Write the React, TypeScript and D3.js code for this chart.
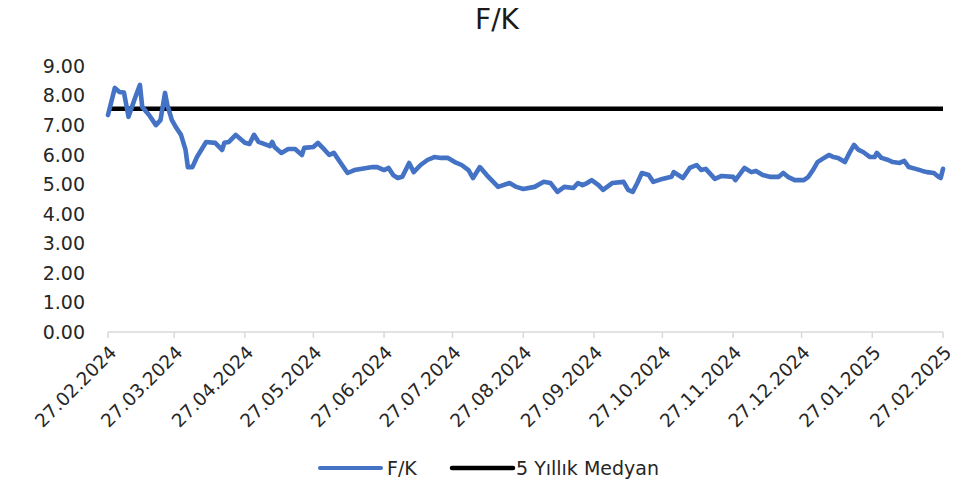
import React from 'react';
import * as d3 from 'd3';

// F/K series
const dates = [
  '2024-02-27', '2024-03-01', '2024-03-03', '2024-03-05', '2024-03-07', '2024-03-10', '2024-03-12',
  '2024-03-13', '2024-03-16', '2024-03-19', '2024-03-21', '2024-03-23', '2024-03-24', '2024-03-26',
  '2024-03-28', '2024-03-30', '2024-04-01', '2024-04-02', '2024-04-04', '2024-04-06', '2024-04-10',
  '2024-04-14', '2024-04-17', '2024-04-18', '2024-04-20', '2024-04-23', '2024-04-27', '2024-04-29',
  '2024-05-01', '2024-05-03', '2024-05-08', '2024-05-09', '2024-05-10', '2024-05-13', '2024-05-16',
  '2024-05-19', '2024-05-22', '2024-05-23', '2024-05-27', '2024-05-29', '2024-06-01', '2024-06-03',
  '2024-06-05', '2024-06-08', '2024-06-11', '2024-06-14', '2024-06-22', '2024-06-24', '2024-06-27',
  '2024-06-29', '2024-07-01', '2024-07-03', '2024-07-05', '2024-07-08', '2024-07-10', '2024-07-13',
  '2024-07-16', '2024-07-19', '2024-07-22', '2024-07-25', '2024-07-28', '2024-07-31', '2024-08-03',
  '2024-08-05', '2024-08-08', '2024-08-11', '2024-08-16', '2024-08-21', '2024-08-24', '2024-08-27',
  '2024-09-01', '2024-09-05', '2024-09-08', '2024-09-11', '2024-09-14', '2024-09-18', '2024-09-20',
  '2024-09-22', '2024-09-24', '2024-09-26', '2024-09-29', '2024-10-01', '2024-10-05', '2024-10-10',
  '2024-10-12', '2024-10-14', '2024-10-16', '2024-10-18', '2024-10-21', '2024-10-23', '2024-10-27',
  '2024-10-31', '2024-11-01', '2024-11-05', '2024-11-08', '2024-11-11', '2024-11-13', '2024-11-15',
  '2024-11-19', '2024-11-22', '2024-11-27', '2024-11-28', '2024-12-02', '2024-12-05', '2024-12-07',
  '2024-12-10', '2024-12-13', '2024-12-17', '2024-12-19', '2024-12-21', '2024-12-24', '2024-12-28',
  '2024-12-30', '2025-01-01', '2025-01-03', '2025-01-05', '2025-01-08', '2025-01-10', '2025-01-12',
  '2025-01-15', '2025-01-17', '2025-01-19', '2025-01-21', '2025-01-23', '2025-01-26', '2025-01-28',
  '2025-01-29', '2025-01-31', '2025-02-03', '2025-02-05', '2025-02-08', '2025-02-10', '2025-02-12',
  '2025-02-15', '2025-02-18', '2025-02-20', '2025-02-23', '2025-02-25', '2025-02-26', '2025-02-27',
];

const fk = [
  7.34, 8.26, 8.12, 8.1, 7.28, 7.95, 8.36,
  7.61, 7.34, 7.0, 7.17, 8.09, 7.68, 7.17,
  6.9, 6.67, 6.16, 5.58, 5.58, 5.92, 6.43,
  6.4, 6.16, 6.4, 6.43, 6.67, 6.4, 6.36,
  6.67, 6.43, 6.29, 6.43, 6.26, 6.06, 6.19,
  6.19, 5.99, 6.23, 6.26, 6.4, 6.16, 5.99,
  6.06, 5.72, 5.38, 5.48, 5.58, 5.58, 5.48,
  5.55, 5.31, 5.21, 5.25, 5.72, 5.41, 5.65,
  5.82, 5.92, 5.89, 5.89, 5.75, 5.65, 5.48,
  5.21, 5.58, 5.31, 4.91, 5.04, 4.91, 4.84,
  4.91, 5.08, 5.04, 4.74, 4.91, 4.87, 5.04,
  4.97, 5.04, 5.14, 4.97, 4.81, 5.04, 5.08,
  4.81, 4.74, 5.04, 5.38, 5.31, 5.08, 5.18,
  5.25, 5.41, 5.21, 5.55, 5.65, 5.48, 5.52,
  5.18, 5.28, 5.25, 5.14, 5.55, 5.41, 5.45,
  5.31, 5.25, 5.25, 5.38, 5.25, 5.14, 5.14,
  5.25, 5.48, 5.75, 5.85, 5.99, 5.92, 5.89,
  5.75, 6.06, 6.33, 6.16, 6.09, 5.92, 5.92,
  6.06, 5.89, 5.82, 5.75, 5.72, 5.79, 5.58,
  5.52, 5.45, 5.41, 5.38, 5.25, 5.21, 5.52,
];

const median5y = 7.55;

const tickLabels = [
  '27.02.2024', '27.03.2024', '27.04.2024', '27.05.2024', '27.06.2024', '27.07.2024', '27.08.2024',
  '27.09.2024', '27.10.2024', '27.11.2024', '27.12.2024', '27.01.2025', '27.02.2025',
];

const yTicks = [0, 1, 2, 3, 4, 5, 6, 7, 8, 9];

const BLUE = '#4472C4';
const FONT = '"DejaVu Sans", sans-serif';

export default function App() {
  const width = 966;
  const height = 486;
  const left = 108;
  const right = 943;
  const top = 66;
  const bottom = 332;

  const parse = d3.timeParse('%Y-%m-%d');
  const parseTick = d3.timeParse('%d.%m.%Y');
  const points = dates.map((d, i) => ({ date: parse(d) as Date, value: fk[i] }));
  const ticks = tickLabels.map(t => ({ label: t, date: parseTick(t) as Date }));

  const xScale = d3
    .scaleTime()
    .domain([ticks[0].date, ticks[ticks.length - 1].date])
    .range([left, right]);

  const yScale = d3.scaleLinear().domain([0, 9]).range([bottom, top]);

  const line = d3
    .line<{ date: Date; value: number }>()
    .x(d => xScale(d.date))
    .y(d => yScale(d.value))
    .curve(d3.curveLinear);

  return (
    <svg
      width={width}
      height={height}
      style={{ position: 'absolute', left: 0, top: 0, background: '#fff' }}
      fontFamily={FONT}>
      {/* title */}
      <text x={497} y={29} textAnchor="middle" fontSize={28} fill="#1a1a1a">
        F/K
      </text>

      {/* y labels */}
      {yTicks.map(v => (
        <text
          key={v}
          x={85}
          y={yScale(v)}
          dy="0.36em"
          textAnchor="end"
          fontSize={19}
          fill="#262626">
          {v.toFixed(2)}
        </text>
      ))}

      {/* x axis */}
      <line x1={left} x2={right} y1={bottom} y2={bottom} stroke="#d9d9d9" strokeWidth={1.5} />
      {ticks.map(t => (
        <g key={t.label} transform={`translate(${xScale(t.date)},0)`}>
          <line y1={bottom} y2={bottom + 6} stroke="#d9d9d9" strokeWidth={1.5} />
          <text
            transform={`translate(5,${bottom + 17}) rotate(-45)`}
            textAnchor="end"
            dy="0.35em"
            fontSize={18.5}
            fill="#262626">
            {t.label}
          </text>
        </g>
      ))}

      {/* median */}
      <line
        x1={left}
        x2={right}
        y1={yScale(median5y)}
        y2={yScale(median5y)}
        stroke="#000"
        strokeWidth={4.5}
      />

      {/* F/K line */}
      <path
        d={line(points) || ''}
        fill="none"
        stroke={BLUE}
        strokeWidth={4.6}
        strokeLinejoin="round"
        strokeLinecap="round"
      />

      {/* legend */}
      <g transform="translate(0,468)">
        <line x1={320} x2={381} stroke={BLUE} strokeWidth={4} strokeLinecap="round" />
        <text x={387} dy="0.36em" fontSize={19} fill="#262626">
          F/K
        </text>
        <line x1={452} x2={513} stroke="#000" strokeWidth={4.5} strokeLinecap="round" />
        <text x={516} dy="0.36em" fontSize={19} fill="#262626">
          5 Yıllık Medyan
        </text>
      </g>
    </svg>
  );
}
